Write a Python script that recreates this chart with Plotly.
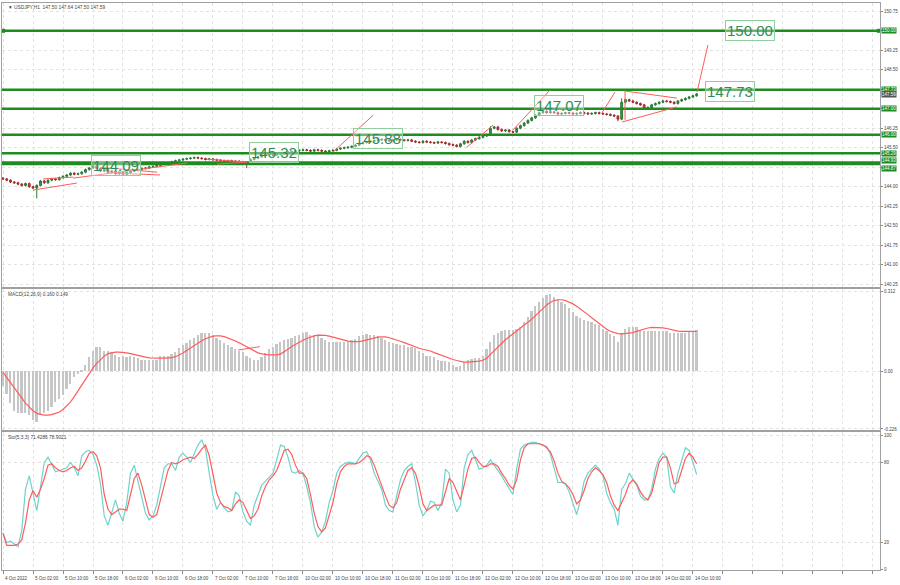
import plotly.graph_objects as go

# ---------------- data ----------------
FIRST_OPEN = 144.33
CLOSE = [
    144.30, 144.25, 144.18, 144.15, 144.10, 144.05, 144.12, 144.00, 143.95, 144.05,
    144.22, 144.15, 144.25, 144.30, 144.27, 144.35, 144.40, 144.45, 144.52, 144.48,
    144.50, 144.56, 144.66, 144.72, 144.80, 144.70, 144.60, 144.66, 144.55, 144.60,
    144.50, 144.55, 144.48, 144.55, 144.60, 144.62, 144.66, 144.70, 144.72, 144.76,
    144.78, 144.82, 144.86, 144.88, 144.92, 144.96, 145.00, 145.03, 145.06, 145.08,
    145.10, 145.12, 145.10, 145.08, 145.05, 145.07, 145.04, 145.02, 145.00, 144.98,
    145.00, 144.97, 144.98, 144.95, 144.93, 144.88, 145.05, 145.10, 145.15, 145.20,
    145.22, 145.25, 145.22, 145.26, 145.28, 145.30, 145.33, 145.35, 145.38, 145.40,
    145.42, 145.40, 145.37, 145.42, 145.40, 145.37, 145.34, 145.38, 145.40, 145.45,
    145.48, 145.50, 145.52, 145.55, 145.60, 145.66, 145.70, 145.72, 145.75, 145.78,
    145.80, 145.82, 145.79, 145.77, 145.80, 145.82, 145.80, 145.78, 145.80, 145.75,
    145.72, 145.70, 145.75, 145.72, 145.70, 145.68, 145.72, 145.70, 145.66, 145.62,
    145.60, 145.55, 145.65, 145.75, 145.70, 145.80, 145.85, 145.90, 145.95, 146.00,
    146.25, 146.30, 146.20, 146.15, 146.18, 146.12, 146.10, 146.25, 146.35, 146.45,
    146.55, 146.65, 146.75, 146.85, 146.90, 146.85, 146.88, 146.85, 146.80, 146.82,
    146.85, 146.83, 146.80, 146.82, 146.85, 146.83, 146.80, 146.82, 146.85, 146.82,
    146.80, 146.78, 146.75, 146.72, 146.60, 147.25, 147.35, 147.30, 147.25, 147.20,
    147.15, 147.00, 147.05, 147.15, 147.20, 147.25, 147.30, 147.28, 147.25, 147.20,
    147.30, 147.35, 147.40, 147.45, 147.50, 147.57,
]
LOW_OVERRIDE = {9: 143.55, 65: 144.72, 164: 146.52}
HIGH_OVERRIDE = {165: 147.40, 130: 146.33}

MACD_HIST = [
    -0.06, -0.09, -0.125, -0.155, -0.165, -0.165, -0.165, -0.17, -0.19, -0.20,
    -0.17, -0.165, -0.155, -0.14, -0.12, -0.11, -0.095, -0.07, -0.05, -0.025,
    -0.012, 0.004, 0.025, 0.055, 0.08, 0.092, 0.095, 0.08, 0.078, 0.075,
    0.062, 0.055, 0.057, 0.055, 0.058, 0.055, 0.05, 0.045, 0.043, 0.043,
    0.043, 0.045, 0.058, 0.06, 0.06, 0.065, 0.075, 0.09, 0.10, 0.11,
    0.12, 0.13, 0.14, 0.15, 0.15, 0.15, 0.14, 0.13, 0.12, 0.11,
    0.10, 0.095, 0.085, 0.08, 0.075, 0.06, 0.05, 0.045, 0.045, 0.055,
    0.07, 0.085, 0.095, 0.105, 0.115, 0.12, 0.125, 0.13, 0.135, 0.14,
    0.15, 0.152, 0.14, 0.14, 0.14, 0.13, 0.12, 0.115, 0.115, 0.115,
    0.115, 0.115, 0.115, 0.12, 0.125, 0.135, 0.14, 0.145, 0.14, 0.14,
    0.135, 0.13, 0.12, 0.115, 0.11, 0.105, 0.10, 0.10, 0.095, 0.095,
    0.09, 0.08, 0.07, 0.06, 0.06, 0.055, 0.045, 0.04, 0.04, 0.035,
    0.025, 0.015, 0.02, 0.035, 0.045, 0.048, 0.05, 0.05, 0.06, 0.085,
    0.115, 0.14, 0.15, 0.155, 0.16, 0.16, 0.16, 0.165, 0.17, 0.19,
    0.21, 0.235, 0.255, 0.27, 0.285, 0.295, 0.30, 0.29, 0.28, 0.27,
    0.26, 0.245, 0.23, 0.215, 0.205, 0.20, 0.195, 0.19, 0.185, 0.18,
    0.165, 0.155, 0.145, 0.135, 0.115, 0.15, 0.165, 0.17, 0.17, 0.17,
    0.16, 0.155, 0.155, 0.155, 0.155, 0.155, 0.155, 0.155, 0.15, 0.15,
    0.15, 0.15, 0.15, 0.155, 0.155, 0.16,
]
MACD_SIGNAL = [
    -0.005, -0.025, -0.045, -0.065, -0.085, -0.105, -0.125, -0.14, -0.155, -0.165,
    -0.17, -0.172, -0.172, -0.17, -0.165, -0.16, -0.15, -0.135, -0.12, -0.10,
    -0.078, -0.055, -0.03, -0.008, 0.012, 0.03, 0.045, 0.058, 0.068, 0.072,
    0.074, 0.074, 0.073, 0.071, 0.068, 0.064, 0.061, 0.057, 0.054, 0.051,
    0.05, 0.05, 0.05, 0.05, 0.05, 0.052, 0.056, 0.062, 0.07, 0.08,
    0.09, 0.10, 0.11, 0.118, 0.126, 0.132, 0.136, 0.137, 0.137, 0.134,
    0.129, 0.124, 0.117, 0.11, 0.102, 0.094, 0.086, 0.078, 0.071, 0.067,
    0.064, 0.063, 0.063, 0.063, 0.066, 0.074, 0.085, 0.096, 0.105, 0.113,
    0.12, 0.127, 0.133, 0.137, 0.14, 0.14, 0.139, 0.136, 0.132, 0.128,
    0.124, 0.12, 0.117, 0.115, 0.114, 0.115, 0.118, 0.122, 0.126, 0.13,
    0.132, 0.133, 0.133, 0.13, 0.126, 0.121, 0.116, 0.111, 0.105, 0.099,
    0.094, 0.089, 0.085, 0.082, 0.078, 0.072, 0.066, 0.06, 0.055, 0.05,
    0.045, 0.041, 0.037, 0.035, 0.035, 0.036, 0.037, 0.039, 0.042, 0.05,
    0.065, 0.08, 0.095, 0.11, 0.122, 0.134, 0.145, 0.155, 0.166, 0.178,
    0.19, 0.202, 0.216, 0.23, 0.245, 0.258, 0.268, 0.275, 0.278, 0.278,
    0.275, 0.27, 0.262, 0.253, 0.243, 0.232, 0.22, 0.208, 0.196, 0.184,
    0.173, 0.163, 0.155, 0.149, 0.146, 0.145, 0.146, 0.148, 0.15, 0.155,
    0.16, 0.165, 0.168, 0.17, 0.17, 0.17, 0.168, 0.166, 0.162, 0.158,
    0.156, 0.155, 0.155, 0.155, 0.155, 0.155,
]
STOCH_K = [
    27, 20, 21, 19, 17, 29, 60, 70, 57, 44,
    62, 80, 84, 78, 73, 74, 75, 76, 80, 76,
    70, 85, 88, 89, 86, 78, 64, 40, 33, 43,
    52, 42, 36, 50, 72, 78, 66, 52, 42, 37,
    40, 48, 62, 76, 79, 79, 74, 84, 87, 84,
    80, 86, 93, 97, 90, 72, 55, 45, 50, 46,
    43, 44, 58, 55, 43, 36, 33, 48, 56, 63,
    66, 69, 72, 82, 93, 92, 84, 73, 72, 74,
    72, 62, 50, 32, 24, 28, 36, 50, 59, 72,
    77, 79, 80, 80, 79, 83, 87, 88, 82, 72,
    66, 60, 48, 44, 43, 56, 67, 74, 77, 79,
    65, 48, 40, 44, 51, 50, 44, 50, 75, 72,
    52, 43, 48, 76, 86, 89, 82, 75, 76, 78,
    82, 78, 74, 70, 65, 60, 56, 75, 90, 93,
    94, 95, 95, 94, 93, 92, 86, 75, 65, 65,
    64, 58, 49, 41, 52, 66, 72, 75, 78, 75,
    70, 57, 50, 45, 33, 60, 64, 72, 67, 63,
    55, 52, 52, 60, 75, 83, 87, 84, 62, 57,
    72, 82, 91, 89, 80, 71,
]
STOCH_D = [
    27, 18, 18, 18, 19, 22, 35, 52, 59, 54,
    60, 68, 78, 79, 76, 74, 73, 74, 76, 77,
    74, 76, 81, 87, 88, 85, 76, 56, 45, 41,
    43, 45, 45, 44, 56, 68, 72, 63, 52, 41,
    39, 41, 52, 64, 74, 80, 79, 80, 82, 83,
    84, 83, 86, 90, 93, 85, 72, 57, 50, 47,
    46, 44, 49, 52, 50, 44, 38, 40, 45, 55,
    62, 67, 70, 74, 82, 89, 90, 86, 78, 72,
    72, 68, 56, 42, 32, 28, 31, 40, 50, 64,
    73, 77, 79, 79, 79, 80, 82, 85, 84, 78,
    70, 63, 55, 48, 46, 50, 60, 67, 74, 76,
    72, 62, 49, 44, 46, 48, 48, 48, 58, 68,
    65, 58, 52, 63, 75, 83, 84, 80, 77, 77,
    79, 79, 77, 72, 68, 63, 60, 67, 82, 91,
    94, 94, 94, 94, 93, 91, 88, 81, 72, 66,
    64, 61, 56, 49, 52, 59, 68, 73, 76, 74,
    71, 65, 55, 48, 44, 50, 56, 64, 67, 64,
    58, 54, 52, 57, 69, 80, 84, 84, 76, 64,
    65, 74, 83, 87, 84, 79,
]

X_TICK_LABELS = [
    "4 Oct 2022", "5 Oct 02:00", "5 Oct 10:00", "5 Oct 18:00", "6 Oct 02:00",
    "6 Oct 10:00", "6 Oct 18:00", "7 Oct 02:00", "7 Oct 10:00", "7 Oct 18:00",
    "10 Oct 02:00", "10 Oct 10:00", "10 Oct 18:00", "11 Oct 02:00", "11 Oct 10:00",
    "11 Oct 18:00", "12 Oct 02:00", "12 Oct 10:00", "12 Oct 18:00", "13 Oct 02:00",
    "13 Oct 10:00", "13 Oct 18:00", "14 Oct 02:00", "14 Oct 10:00",
]
BARS_PER_LABEL = 8
PRICE_TICKS = [140.25, 141.00, 141.75, 142.50, 143.25, 144.00, 144.75, 145.50,
               146.25, 147.00, 147.75, 148.50, 149.25, 150.00, 150.75]
# tick labels hidden behind the level tags in the reference
HIDDEN_PRICE_TICKS = [144.75, 147.00, 147.75, 150.00]
MACD_TICKS = [-0.226, 0.0, 0.312]
MACD_TICK_TEXT = ["-0.226", "0.00", "0.312"]
STOCH_TICKS = [0, 20, 80, 100]

# horizontal support/resistance levels
LEVELS = [150.00, 147.73, 147.00, 146.00, 145.29, 144.93, 144.87]
TAG_SHIFT = {144.93: 2, 144.87: -4}
CURRENT_PRICE_LABEL = ("147.59", 147.55)
# boxed text labels: (text, bar position, price)
BOX_LABELS = [
    ("150.00", 199.2, 150.00),
    ("147.73", 194.0, 147.68),
    ("147.07", 148.3, 147.12),
    ("145.88", 100.0, 145.87),
    ("145.32", 72.3, 145.33),
    ("144.09", 30.1, 144.83),
]
# drawn trend lines (bar, price) -> (bar, price)
TRENDLINES = [
    (8.0, 143.87, 19.7, 144.14),
    (10.7, 144.30, 18.7, 144.37),
    (25.9, 144.75, 41.1, 144.56),
    (30.4, 144.52, 41.9, 144.45),
    (18.7, 144.33, 49.1, 144.91),
    (54.4, 145.06, 65.1, 144.95),
    (57.1, 144.87, 65.1, 144.95),
    (88.0, 145.33, 98.7, 146.75),
    (123.7, 145.52, 130.7, 146.37),
    (136.0, 146.18, 145.9, 147.72),
    (159.7, 146.83, 163.2, 147.64),
    (165.9, 147.68, 179.7, 147.41),
    (165.1, 146.49, 179.7, 147.07),
    (165.9, 147.68, 165.9, 146.57),
    (185.1, 147.64, 188.0, 149.45),
]
MACD_TRENDLINES = [(62.7, 0.082, 68.5, 0.095)]

# ---------------- style / geometry ----------------
WICK = 0.04
X_RANGE = [-0.27, 233.9]
PRICE_RANGE = [140.14, 151.07]
MACD_RANGE = [-0.230, 0.320]
STOCH_RANGE = [-0.5, 102.8]
GREEN = "#1e8c1e"
RED_LINE = "#ff5c5c"
GRID = "#e2e2e2"
AXLINE = "#a0a0a0"
TXT = "#444444"
FONT = "Liberation Sans"
SMALL = 4.5

n = len(CLOSE)
bars = list(range(n))
opens = [FIRST_OPEN] + CLOSE[:-1]
highs = [HIGH_OVERRIDE.get(i, max(o, c) + WICK) for i, (o, c) in enumerate(zip(opens, CLOSE))]
lows = [LOW_OVERRIDE.get(i, min(o, c) - WICK) for i, (o, c) in enumerate(zip(opens, CLOSE))]

fig = go.Figure()

fig.add_trace(go.Candlestick(
    x=bars, open=opens, high=highs, low=lows, close=CLOSE,
    increasing=dict(line=dict(color="#2b7a37", width=1), fillcolor="#3a9a48"),
    decreasing=dict(line=dict(color="#a52e2e", width=1), fillcolor="#c84040"),
    whiskerwidth=0, xaxis="x", yaxis="y", hoverinfo="skip"))

fig.add_trace(go.Bar(x=bars[:len(MACD_HIST)], y=MACD_HIST, marker_color="#c6c6c6",
                     marker_line_width=0, width=0.45, xaxis="x2", yaxis="y2"))
fig.add_trace(go.Scatter(x=bars[:len(MACD_SIGNAL)], y=MACD_SIGNAL, mode="lines",
                         line=dict(color=RED_LINE, width=1.2), xaxis="x2", yaxis="y2"))

fig.add_trace(go.Scatter(x=bars[:len(STOCH_K)], y=STOCH_K, mode="lines",
                         line=dict(color="#6fd3cb", width=1.2), xaxis="x3", yaxis="y3"))
fig.add_trace(go.Scatter(x=bars[:len(STOCH_D)], y=STOCH_D, mode="lines",
                         line=dict(color=RED_LINE, width=1.2), xaxis="x3", yaxis="y3"))

# handles on the 150.00 line
fig.add_trace(go.Scatter(x=[X_RANGE[0] + 0.3, X_RANGE[1] - 0.3], y=[LEVELS[0]] * 2, mode="markers",
                         marker=dict(symbol="square", size=4, color=GREEN),
                         cliponaxis=False, xaxis="x", yaxis="y"))

grid_x = list(range(0, int(X_RANGE[1]) + 1, BARS_PER_LABEL))

H = 585
T, B = 3, 15
ph = H - T - B


def dom(top_px, bot_px):
    return [(H - B - bot_px) / ph, (H - B - top_px) / ph]


xcommon = dict(range=X_RANGE, tickvals=grid_x, showticklabels=False, showgrid=True,
               gridcolor=GRID, griddash="dot", gridwidth=1, zeroline=False,
               showline=True, linecolor=AXLINE, linewidth=1.3, mirror=True)
ycommon = dict(side="right", showgrid=True, gridcolor=GRID, griddash="dot", zeroline=False,
               showline=True, linecolor=AXLINE, linewidth=1.3, mirror=True,
               ticks="outside", ticklen=2, tickcolor="#888888", automargin=False,
               tickfont=dict(size=SMALL, color=TXT, family=FONT))

price_ticktext = ["" if v in HIDDEN_PRICE_TICKS else f"{v:.2f}" for v in PRICE_TICKS]

fig.update_layout(
    width=900, height=585,
    margin=dict(l=2, r=20, t=T, b=B),
    paper_bgcolor="white", plot_bgcolor="white",
    showlegend=False, bargap=0,
    xaxis=dict(domain=[0, 1], anchor="y", rangeslider=dict(visible=False), **xcommon),
    xaxis2=dict(domain=[0, 1], anchor="y2", matches="x", **xcommon),
    xaxis3=dict(domain=[0, 1], anchor="y3", matches="x", ticks="outside", ticklen=3,
                tickcolor="#888888", **xcommon),
    yaxis=dict(domain=dom(T, 287), anchor="x", range=PRICE_RANGE, tickvals=PRICE_TICKS,
               ticktext=price_ticktext, **ycommon),
    yaxis2=dict(domain=dom(289, 430), anchor="x2", range=MACD_RANGE, tickvals=MACD_TICKS,
                ticktext=MACD_TICK_TEXT, **ycommon),
    yaxis3=dict(domain=dom(432, 570), anchor="x3", range=STOCH_RANGE, tickvals=STOCH_TICKS,
                ticktext=[str(v) for v in STOCH_TICKS], **ycommon),
)

shapes = []
for lvl in LEVELS:
    shapes.append(dict(type="line", xref="x", yref="y", x0=X_RANGE[0], x1=X_RANGE[1],
                       y0=lvl, y1=lvl, line=dict(color=GREEN, width=2.4), layer="above"))
for x0, y0, x1, y1 in TRENDLINES:
    shapes.append(dict(type="line", xref="x", yref="y", x0=x0, y0=y0, x1=x1, y1=y1,
                       line=dict(color=RED_LINE, width=1)))
for x0, y0, x1, y1 in MACD_TRENDLINES:
    shapes.append(dict(type="line", xref="x2", yref="y2", x0=x0, y0=y0, x1=x1, y1=y1,
                       line=dict(color=RED_LINE, width=1)))
fig.update_layout(shapes=shapes)

ann = []
for text, bx, py in BOX_LABELS:
    ann.append(dict(x=bx, y=py, xref="x", yref="y", text=text, showarrow=False,
                    xanchor="center", yanchor="middle",
                    font=dict(size=15, color="#2e8b57", family=FONT),
                    bordercolor="#8fcf9c", borderwidth=1, borderpad=1,
                    bgcolor="rgba(255,255,255,0.35)"))
for lvl in LEVELS:
    ann.append(dict(x=1, y=lvl, xref="paper", yref="y", text=f"{lvl:.2f}", showarrow=False,
                    xanchor="left", yanchor="middle", xshift=1, yshift=TAG_SHIFT.get(lvl, 0),
                    font=dict(size=SMALL, color="white", family=FONT),
                    bgcolor=GREEN, borderpad=0))
ann.append(dict(x=1, y=CURRENT_PRICE_LABEL[1], xref="paper", yref="y",
                text=CURRENT_PRICE_LABEL[0], showarrow=False, xanchor="left",
                yanchor="middle", xshift=1, font=dict(size=SMALL, color="white", family=FONT),
                bgcolor="#555555", borderpad=0))
for i, lab in enumerate(X_TICK_LABELS):
    ann.append(dict(x=i * BARS_PER_LABEL, y=0, xref="x3", yref="paper", text=lab,
                    showarrow=False, xanchor="left", yanchor="middle", yshift=-8,
                    font=dict(size=SMALL, color=TXT, family=FONT)))


def ypaper(px):
    return (H - B - px) / ph


ann.append(dict(x=0.004, y=ypaper(7), xref="paper", yref="paper",
                text="▼ USDJPY,H1  147.50 147.64 147.50 147.59", showarrow=False,
                xanchor="left", yanchor="middle", font=dict(size=4.8, color=TXT, family=FONT)))
ann.append(dict(x=0.004, y=ypaper(294), xref="paper", yref="paper",
                text="MACD(12,26,9) 0.160 0.149", showarrow=False,
                xanchor="left", yanchor="middle", font=dict(size=4.8, color=TXT, family=FONT)))
ann.append(dict(x=0.004, y=ypaper(437), xref="paper", yref="paper",
                text="Sto(5,3,3) 71.4286 78.9021", showarrow=False,
                xanchor="left", yanchor="middle", font=dict(size=4.8, color=TXT, family=FONT)))
fig.update_layout(annotations=ann)

fig.write_html("out.html", config={"displayModeBar": False},
               post_script="document.body.style.margin='0';document.body.style.overflow='hidden';")
